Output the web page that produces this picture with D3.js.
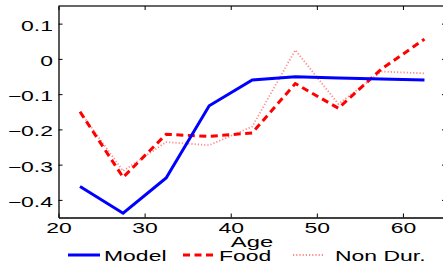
<!DOCTYPE html>
<html>
<head>
<meta charset="utf-8">
<script src="https://cdn.jsdelivr.net/npm/d3@7"></script>
<style>
  body { margin: 0; background: #fff; }
  text { font-family: "Liberation Sans", Arial, sans-serif; fill: #000; }
</style>
</head>
<body>
<svg id="chart" width="443" height="271"></svg>
<script>
// age group midpoints
var ages = [22.5, 27.5, 32.5, 37.5, 42.5, 47.5, 52.5, 57.5, 62.5];
var model = [-0.362, -0.438, -0.338, -0.133, -0.060, -0.051, -0.054, -0.057, -0.060];
var food = [-0.150, -0.336, -0.214, -0.220, -0.210, -0.070, -0.140, -0.029, 0.056];
var nonDur = [-0.150, -0.318, -0.236, -0.245, -0.192, 0.025, -0.128, -0.036, -0.041];
var xTicks = [20, 30, 40, 50, 60];
var yTicks = [-0.4, -0.3, -0.2, -0.1, 0, 0.1];
var legendNames = ['Model', 'Food', 'Non Dur.'];

var svg = d3.select('#chart');
var stretch = 1.64; // the text in the picture is wide

var x = d3.scaleLinear().domain([20, 65]).range([58.5, 446]);
var y = d3.scaleLinear().domain([-0.45, 0.15]).range([217.5, 6]);

var fmt = function(d) {
  if (d === 0) return '0';
  return d3.format('.1f')(d).replace('-', '\u2212');
};

// box
svg.append('line')
  .attr('x1', x(20)).attr('x2', x(65))
  .attr('y1', y(0.15)).attr('y2', y(0.15))
  .attr('stroke', '#666').attr('stroke-width', 2);
svg.append('line')
  .attr('x1', x(65)).attr('x2', x(65))
  .attr('y1', y(0.15)).attr('y2', y(-0.45))
  .attr('stroke', '#000').attr('stroke-width', 1);

// axes with inward ticks
var xAxis = svg.append('g')
  .attr('transform', 'translate(0,' + y(-0.45) + ')')
  .call(d3.axisBottom(x).tickValues(xTicks).tickSizeInner(-4).tickSizeOuter(0));
xAxis.selectAll('.tick text')
  .attr('y', 0).attr('dy', null)
  .attr('transform', 'translate(0,15.5) scale(' + stretch + ',1)');

var xTop = svg.append('g')
  .attr('transform', 'translate(0,' + y(0.15) + ')')
  .call(d3.axisTop(x).tickValues(xTicks).tickSizeInner(-4).tickSizeOuter(0).tickFormat(''));
xTop.select('.domain').remove();

var yAxis = svg.append('g')
  .attr('transform', 'translate(' + x(20) + ',0)')
  .call(d3.axisLeft(y).tickValues(yTicks).tickSizeInner(-4).tickSizeOuter(0).tickFormat(fmt));
yAxis.selectAll('.tick text')
  .attr('x', 0).attr('dy', null)
  .attr('transform', 'translate(-5.5,6.5) scale(' + stretch + ',1)');

var yRight = svg.append('g')
  .attr('transform', 'translate(' + x(65) + ',0)')
  .call(d3.axisRight(y).tickValues(yTicks).tickSizeInner(-4).tickSizeOuter(0).tickFormat(''));
yRight.select('.domain').remove();

svg.selectAll('.tick text')
  .style('font-family', '"Liberation Sans", Arial, sans-serif')
  .style('font-size', '14px');
svg.selectAll('.domain').attr('stroke', '#000').attr('stroke-width', 1.3);

// x label
svg.append('text')
  .attr('transform', 'translate(252,246.5) scale(' + stretch + ',1)')
  .attr('text-anchor', 'middle')
  .style('font-size', '14.5px')
  .text('Age');

var line = d3.line()
  .x(function(d, i) { return x(ages[i]); })
  .y(function(d) { return y(d); });

var series = [
  { values: nonDur, color: '#ff8a8a', width: 1.8, dash: '1.2,2' },
  { values: food, color: '#ff0000', width: 3, dash: '7,4.5' },
  { values: model, color: '#0000ff', width: 3, dash: null }
];

svg.selectAll('path.series')
  .data(series)
  .enter()
  .append('path')
  .attr('class', 'series')
  .attr('d', d => line(d.values))
  .attr('fill', 'none')
  .attr('stroke', d => d.color)
  .attr('stroke-width', d => d.width)
  .attr('stroke-dasharray', d => d.dash);

// legend
var legendX = [68, 183, 293];
var legendStyles = [series[2], series[1], series[0]];
var legend = svg.selectAll('g.legend')
  .data(legendNames)
  .enter()
  .append('g')
  .attr('class', 'legend')
  .attr('transform', (d, i) => 'translate(' + legendX[i] + ',255)');

legend.append('line')
  .attr('x1', 0).attr('x2', 32)
  .attr('y1', 0).attr('y2', 0)
  .attr('stroke', (d, i) => legendStyles[i].color)
  .attr('stroke-width', (d, i) => legendStyles[i].width)
  .attr('stroke-dasharray', (d, i) => legendStyles[i].dash);

legend.append('text')
  .attr('transform', (d, i) => 'translate(' + (i === 2 ? 42 : 36) + ',6) scale(' + stretch + ',1)')
  .style('font-size', '14px')
  .text(d => d);
</script>
</body>
</html>
